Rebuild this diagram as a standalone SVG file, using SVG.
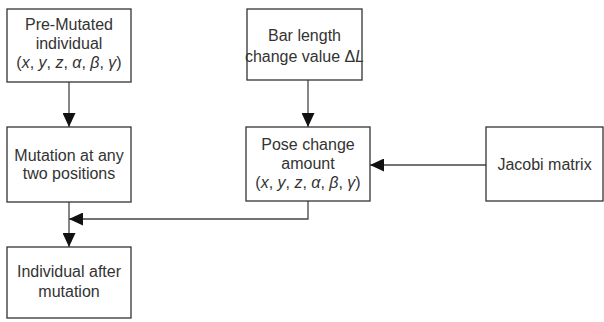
<svg xmlns="http://www.w3.org/2000/svg" width="604" height="322" viewBox="0 0 604 322">
<style>
.box{fill:#fff;stroke:#333;stroke-width:1.3}
.t{font-family:"Liberation Sans",Arial,sans-serif;font-size:16px;fill:#333;text-anchor:middle}
.i{font-style:italic}
.c{fill:none;stroke:#444;stroke-width:1.3}
</style>
<defs>
<marker id="ah" markerWidth="14" markerHeight="13" refX="14" refY="6.5" orient="auto" markerUnits="userSpaceOnUse">
<path d="M0,0 L14,6.5 L0,13 Z" fill="#111"/>
</marker>
</defs>
<rect width="604" height="322" fill="#fff"/>
<g id="connectors">
<line class="c" x1="69" y1="82" x2="69" y2="127" marker-end="url(#ah)"/>
<line class="c" x1="308" y1="80" x2="308" y2="127" marker-end="url(#ah)"/>
<line class="c" x1="486" y1="165" x2="370" y2="165" marker-end="url(#ah)"/>
<polyline class="c" points="308,201 308,219 69,219" marker-end="url(#ah)"/>
<line class="c" x1="69" y1="202" x2="69" y2="247" marker-end="url(#ah)"/>
</g>
<g id="pre-mutated">
<rect class="box" x="7" y="9" width="124" height="73"/>
<text class="t" x="69" y="30">Pre-Mutated</text>
<text class="t" x="69" y="49">individual</text>
<text class="t" x="69" y="68">(<tspan class="i">x</tspan>, <tspan class="i">y</tspan>, <tspan class="i">z</tspan>, <tspan class="i">α</tspan>, <tspan class="i">β</tspan>, <tspan class="i">γ</tspan>)</text>
</g>
<g id="bar-length">
<rect class="box" x="247" y="9" width="115" height="71"/>
<text class="t" x="304.5" y="41">Bar length</text>
<text class="t" x="304.5" y="62">change value Δ<tspan class="i">L</tspan></text>
</g>
<g id="mutation">
<rect class="box" x="7" y="127" width="124" height="75"/>
<text class="t" x="69" y="161">Mutation at any</text>
<text class="t" x="69" y="179">two positions</text>
</g>
<g id="pose-change">
<rect class="box" x="246" y="127" width="124" height="74"/>
<text class="t" x="308" y="150">Pose change</text>
<text class="t" x="308" y="169">amount</text>
<text class="t" x="308" y="188">(<tspan class="i">x</tspan>, <tspan class="i">y</tspan>, <tspan class="i">z</tspan>, <tspan class="i">α</tspan>, <tspan class="i">β</tspan>, <tspan class="i">γ</tspan>)</text>
</g>
<g id="jacobi">
<rect class="box" x="486" y="127" width="117" height="74"/>
<text class="t" x="544.5" y="170">Jacobi matrix</text>
</g>
<g id="individual-after">
<rect class="box" x="7" y="247" width="124" height="71"/>
<text class="t" x="69" y="277">Individual after</text>
<text class="t" x="69" y="297">mutation</text>
</g>
</svg>
